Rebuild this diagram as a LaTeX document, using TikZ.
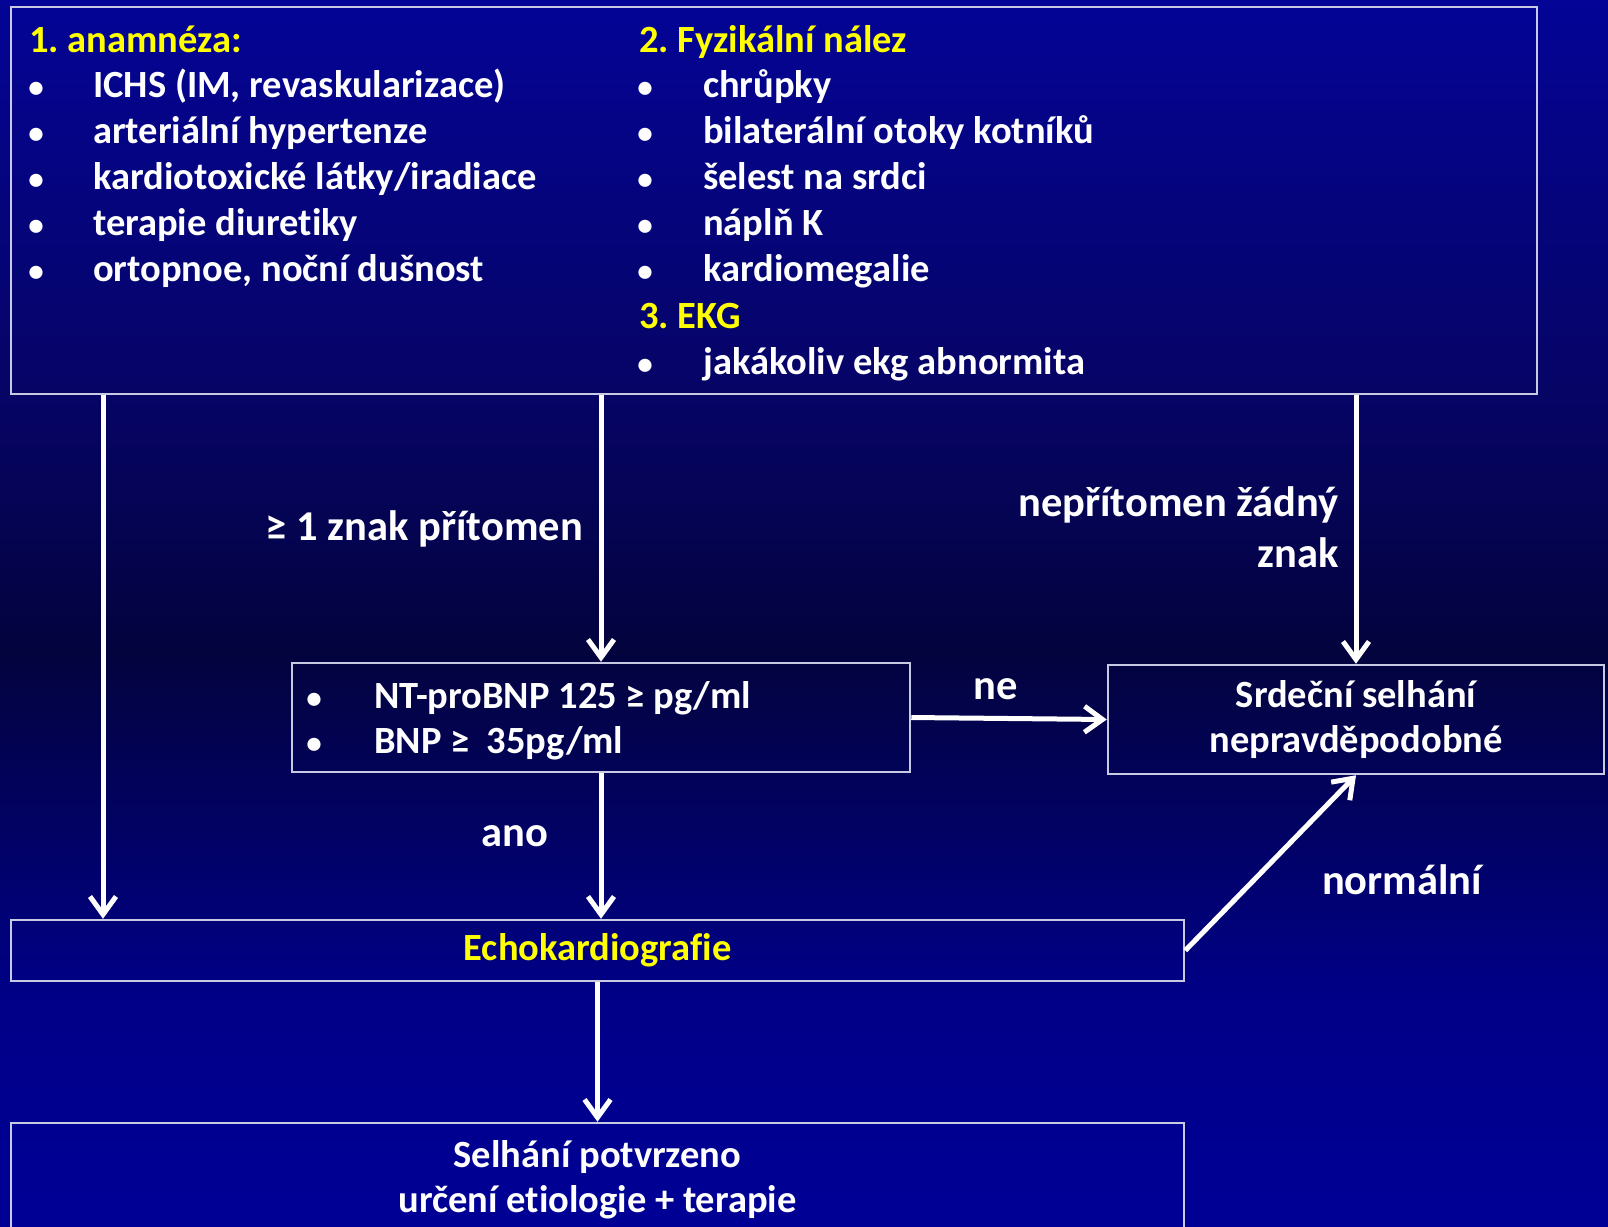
\documentclass[tikz,border=0pt]{standalone}
\usepackage{fontspec}
\setmainfont{Carlito}[Ligatures=NoCommon]
\usetikzlibrary{arrows.meta}
\frenchspacing
\definecolor{ylw}{RGB}{255,255,0}
\definecolor{edge}{RGB}{200,202,228}
\definecolor{bgA}{RGB}{0,0,150}
\definecolor{bgB}{RGB}{0,0,136}
\definecolor{bgC}{RGB}{3,3,62}
\definecolor{bgD}{RGB}{6,4,100}
\definecolor{bgE}{RGB}{4,4,150}
\begin{document}
\begin{tikzpicture}[x=1pt,y=-1pt,
  box/.style={draw=edge, line width=2.5pt, inner sep=0pt, text=white, align=center,
    font=\bfseries\fontsize{38.5}{45}\selectfont},
  txt/.style={text=white, font=\bfseries\fontsize{38.5}{45}\selectfont, inner sep=0pt,
    text height=26pt, text depth=8pt, anchor=west},
  bul/.style={txt, font=\bfseries\fontsize{31}{34}\selectfont, anchor=center},
  head/.style={txt, text=ylw},
  lbl/.style={text=white, font=\bfseries\fontsize{42.5}{51}\selectfont, inner sep=0pt, align=right},
  arr/.style={draw=white, line width=5pt, -{Straight Barb[length=18pt,width=26pt]}}]
\useasboundingbox (0,0) rectangle (1608,1226);
% background gradient in bands
\foreach \ya/\yb/\ca/\cb in {0/400/bgE/bgD, 400/650/bgD/bgC, 650/1000/bgC/bgB, 1000/1230/bgB/bgA}{
  \pgfmathtruncatemacro\nn{(\yb-\ya)/5-1}
  \foreach \k in {0,...,\nn}{
    \pgfmathtruncatemacro\pp{100-100*\k/(\nn+1)}
    \fill[\ca!\pp!\cb] (0,{\ya+5*\k}) rectangle (1608,{\ya+5*\k+5.6});
  }
}

% boxes
\node[box, minimum width=1526pt, minimum height=387pt] (top) at (774,200.5) {};
\node[box, minimum width=618pt, minimum height=109pt] (nt) at (601,717.5) {};
\node[box, minimum width=496pt, minimum height=109pt] (srd) at (1356,719.5)
  {Srdeční selhání\\nepravděpodobné};
\node[box, minimum width=1173pt, minimum height=61pt] (echo) at (597.5,950.5)
  {\textcolor{ylw}{Echokardiografie}\rule[-6pt]{0pt}{0pt}};
\node[box, minimum width=1173pt, minimum height=113pt] (sel) at (597.5,1179.5)
  {Selhání potvrzeno\\určení etiologie + terapie};

% left column
\node[head] (h1) at (29,43.5) {1. anamnéza:};
\foreach \i/\t/\y in {1/{ICHS (IM, revaskularizace)}/88.5, 2/arteriální hypertenze/134.5,
  3/{kardiotoxické látky/iradiace}/180.5, 4/terapie diuretiky/226.5, 5/{ortopnoe, noční dušnost}/272.5}{
  \node[bul] (lb\i) at (36,\y) {•};
  \node[txt] (lt\i) at (93,\y) {\t};
}
% right column
\node[head] (h2) at (639,43.5) {2. Fyzikální nález};
\foreach \i/\t/\y in {1/chrůpky/88.5, 2/bilaterální otoky kotníků/134.5, 3/šelest na srdci/180.5,
  4/náplň K/226.5, 5/kardiomegalie/272.5}{
  \node[bul] (rb\i) at (645,\y) {•};
  \node[txt] (rt\i) at (703,\y) {\t};
}
\node[head] (h3) at (639,319.5) {3. EKG};
\node[bul] (rb6) at (645,365.5) {•};
\node[txt] (rt6) at (703,365.5) {jakákoliv ekg abnormita};

% NT box content
\node[bul] (nb1) at (314,699.5) {•};
\node[txt] (nt1) at (374,699.5) {NT-proBNP 125 ≥ pg/ml};
\node[bul] (nb2) at (314,744.5) {•};
\node[txt] (nt2) at (374,744.5) {BNP ≥\ \ 35pg/ml};

% arrows
\coordinate (xl) at (103,0);
\draw[arr] (top.south -| xl) -- (echo.north -| xl);
\draw[arr] (top.south -| nt.north) -- (nt.north);
\draw[arr] (top.south -| srd.north) -- (srd.north);
\draw[arr] (nt.east) -- (srd.west);
\draw[arr] (nt.south) -- (echo.north -| nt.south);
\draw[arr] (echo.south) -- (sel.north);
\draw[arr] (echo.east) -- (srd.south);

% labels
\node[lbl, anchor=east] (l1) at (583,529) {≥ 1 znak přítomen};
\node[lbl, anchor=east] (l2) at (1339,527) {nepřítomen žádný\\znak};
\node[lbl] (l3) at (996,689) {ne};
\node[lbl] (l4) at (515,836) {ano};
\node[lbl] (l5) at (1402,880) {normální};
\end{tikzpicture}
\end{document}
